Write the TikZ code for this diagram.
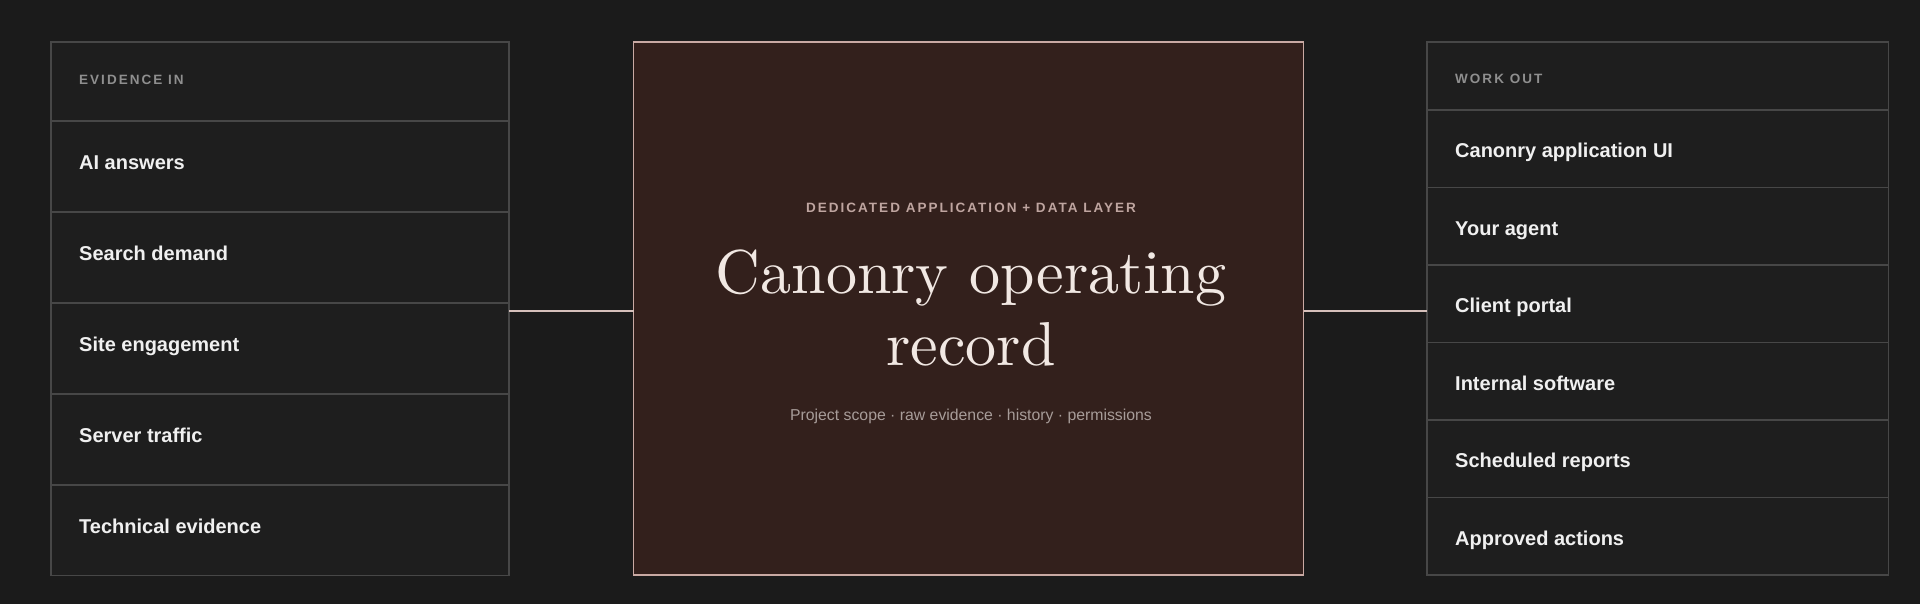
\documentclass[tikz,border=0pt]{standalone}
\usepackage{fontspec}
\newfontfamily\labelfont{Liberation Sans}
\newfontfamily\capsfont[LetterSpace=15]{Liberation Sans}
\newfontfamily\titlefont{lmroman10-regular}[Extension=.otf]
\definecolor{bg}{HTML}{1B1B1B}
\definecolor{panelbg}{HTML}{1E1E1E}
\definecolor{panelline}{HTML}{474747}
\definecolor{corebg}{HTML}{33201C}
\definecolor{coreline}{HTML}{C9A9A3}
\definecolor{connline}{HTML}{D6C0BB}
\definecolor{itemtext}{HTML}{F0F0F0}
\definecolor{headtext}{HTML}{8F8F8F}
\definecolor{capstext}{HTML}{BFA5A0}
\definecolor{titletext}{HTML}{F1E8E3}
\definecolor{subtext}{HTML}{A79C99}
\begin{document}
\begin{tikzpicture}[x=1pt,y=-1pt,
  panel/.style={draw=panelline, fill=panelbg, line width=1.4pt, inner sep=0pt, outer sep=0pt, anchor=north west, rectangle},
  corebox/.style={draw=coreline, fill=corebg, line width=1.4pt, inner sep=0pt, outer sep=0pt, anchor=north west, rectangle},
  divider/.style={draw=panelline, line width=1.4pt},
  item/.style={anchor=base west, inner sep=0pt, text=itemtext, font=\labelfont\bfseries\fontsize{20}{22}\selectfont},
  head/.style={anchor=base west, inner sep=0pt, text=headtext, font=\capsfont\bfseries\fontsize{13.5}{16}\selectfont},
  conn/.style={draw=connline, line width=2pt}]
\useasboundingbox (0,0) rectangle (1920,603);
\fill[bg] (-10,-10) rectangle (1930,613);
% panels
\node[panel, minimum width=458pt, minimum height=533.5pt] (inp) at (51,42) {};
\node[corebox, minimum width=670pt, minimum height=533pt] (core) at (633.5,42) {};
\node[panel, minimum width=461.5pt, minimum height=533pt] (out) at (1427,42) {};
% left dividers
\foreach \yy in {121,212,303,394,485} \draw[divider] (inp.west |- 0,\yy) -- (inp.east |- 0,\yy);
% right dividers
\foreach \yy in {110,187.5,265,342.5,420,497.5} \draw[divider] (out.west |- 0,\yy) -- (out.east |- 0,\yy);
% left labels
\node[head] (hin) at (79,84) {EVIDENCE IN};
\node[item] (i1) at (79,169) {AI answers};
\node[item] (i2) at (79,260) {Search demand};
\node[item] (i3) at (79,351) {Site engagement};
\node[item] (i4) at (79,442) {Server traffic};
\node[item] (i5) at (79,533) {Technical evidence};
% right labels
\node[head] (hout) at (1455,83) {WORK OUT};
\node[item] (o1) at (1455,157) {Canonry application UI};
\node[item] (o2) at (1455,235) {Your agent};
\node[item] (o3) at (1455,312) {Client portal};
\node[item] (o4) at (1455,390) {Internal software};
\node[item] (o5) at (1455,467) {Scheduled reports};
\node[item] (o6) at (1455,545) {Approved actions};
% center texts
\node[anchor=base, inner sep=0pt, text=capstext, font=\capsfont\bfseries\fontsize{13.5}{16}\selectfont] (cap) at (971,212.5) {DEDICATED APPLICATION + DATA LAYER};
\node[anchor=base, inner sep=0pt, text=titletext, font=\titlefont\fontsize{62}{72}\selectfont] (t1) at (971,293) {Canonry operating};
\node[anchor=base, inner sep=0pt, text=titletext, font=\titlefont\fontsize{62}{72}\selectfont] (t2) at (971,365) {record};
\node[anchor=base, inner sep=0pt, text=subtext, font=\labelfont\fontsize{15.8}{18}\selectfont] (sub) at (971,420) {Project scope · raw evidence · history · permissions};
% connectors
\coordinate (lvl) at (0,311);
\draw[conn] (inp.east |- lvl) -- (core.west |- lvl);
\draw[conn] (core.east |- lvl) -- (out.west |- lvl);
\end{tikzpicture}
\end{document}
